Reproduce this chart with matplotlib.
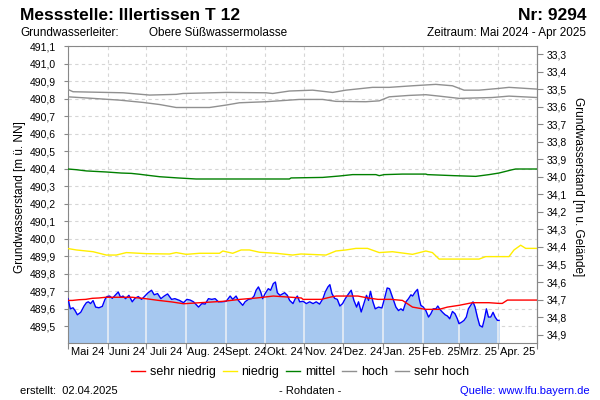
import datetime as dt

import matplotlib
matplotlib.use('Agg')
import matplotlib.pyplot as plt
import matplotlib.dates as mdates
from matplotlib.ticker import FixedLocator, FuncFormatter, NullFormatter

plt.rcParams['font.family'] = ['Liberation Sans', 'DejaVu Sans']

START = dt.date(2024, 5, 1)
GELAENDE = 524.353  # Geländehöhe [m ü. NN]

monate = ['Mai 24', 'Juni 24', 'Juli 24', 'Aug. 24', 'Sept. 24', 'Okt. 24',
          'Nov. 24', 'Dez. 24', 'Jan. 25', 'Feb. 25', 'Mrz. 25', 'Apr. 25']
links_ticks = [489.5, 489.6, 489.7, 489.8, 489.9, 490.0, 490.1, 490.2, 490.3,
               490.4, 490.5, 490.6, 490.7, 490.8, 490.9, 491.0, 491.1]
rechts_ticks = [33.3, 33.4, 33.5, 33.6, 33.7, 33.8, 33.9, 34.0, 34.1, 34.2,
                34.3, 34.4, 34.5, 34.6, 34.7, 34.8, 34.9]

# Messwerte (Tage seit 01.05.2024, Wasserstand m ü. NN)
gw_tage = [0, 1.8, 3.9, 5.5, 7.3, 9.9, 12.5, 14.3, 15.8, 17.6, 19.5, 21.5, 24.1,
           26.7, 28.8, 30.3, 32.4, 34.5, 37.1, 39.1, 40.9, 42.8, 44.8, 47.4, 50.0,
           52.1, 54.7, 57.3, 59.9, 62.4, 65.0, 67.1, 69.7, 72.3, 74.9, 77.5, 80.6,
           83.2, 86.8, 89.9, 92.5, 95.1, 97.7, 100.3, 101.6, 104.2, 106.7, 109.3,
           111.9, 114.5, 117.1, 119.7, 123.1, 126.2, 128.2, 130.8, 132.6, 136.0,
           137.8, 140.4, 143.0, 144.8, 146.4, 148.2, 150.0, 151.5, 153.4, 155.9,
           157.7, 159.8, 161.4, 162.9, 165.0, 168.6, 170.7, 172.5, 175.1, 176.9,
           178.5, 180.3, 182.9, 185.5, 188.1, 190.7, 193.2, 195.8, 198.4, 200.2,
           202.3, 203.8, 205.4, 207.5, 209.6, 211.6, 213.7, 215.8, 217.8, 220.4,
           222.5, 224.6, 226.1, 228.2, 230.3, 232.3, 233.9, 235.4, 237.3, 239.1,
           241.7, 244.3, 246.3, 248.4, 250.2, 253.1, 255.2, 257.2, 259.1, 260.8,
           263.0, 265.0, 266.9, 268.2, 270.2, 272.0, 273.3, 274.6, 276.5, 278.5,
           280.6, 282.4, 284.2, 286.3, 287.8, 289.4, 291.5, 293.5, 295.3, 297.1,
           299.2, 301.2, 303.0, 304.3, 306.4, 308.2, 310.0, 311.6, 313.4, 315.2,
           316.8, 318.6, 320.4, 322.5, 324.1, 325.6, 327.2, 329.0, 330.8, 332.4,
           334.2, 335.5]
gw_stand = [489.658, 489.600, 489.606, 489.590, 489.566, 489.580, 489.616, 489.635,
            489.640, 489.630, 489.647, 489.610, 489.606, 489.614, 489.654, 489.670,
            489.673, 489.660, 489.680, 489.696, 489.666, 489.673, 489.658, 489.677,
            489.640, 489.660, 489.670, 489.654, 489.673, 489.692, 489.706, 489.680,
            489.687, 489.658, 489.673, 489.685, 489.654, 489.658, 489.648, 489.635,
            489.654, 489.650, 489.640, 489.620, 489.610, 489.630, 489.627, 489.658,
            489.654, 489.658, 489.640, 489.640, 489.643, 489.673, 489.654, 489.673,
            489.648, 489.620, 489.640, 489.654, 489.658, 489.673, 489.706, 489.725,
            489.696, 489.658, 489.687, 489.715, 489.706, 489.744, 489.753, 489.692,
            489.677, 489.692, 489.677, 489.648, 489.630, 489.658, 489.673, 489.640,
            489.643, 489.630, 489.640, 489.630, 489.640, 489.627, 489.658, 489.696,
            489.725, 489.738, 489.687, 489.660, 489.654, 489.616, 489.630, 489.658,
            489.680, 489.706, 489.648, 489.610, 489.640, 489.582, 489.630, 489.677,
            489.648, 489.700, 489.640, 489.600, 489.610, 489.605, 489.658, 489.719,
            489.715, 489.654, 489.610, 489.590, 489.600, 489.590, 489.640, 489.658,
            489.680, 489.673, 489.696, 489.711, 489.658, 489.620, 489.610, 489.590,
            489.553, 489.572, 489.600, 489.600, 489.616, 489.597, 489.580, 489.566,
            489.559, 489.543, 489.585, 489.572, 489.543, 489.515, 489.524, 489.534,
            489.553, 489.600, 489.620, 489.640, 489.610, 489.553, 489.505, 489.496,
            489.543, 489.600, 489.553, 489.553, 489.580, 489.553, 489.534, 489.534]

# Kennwerte
sn_tage = [0, 3.4, 8.6, 13.8, 18.9, 24.1, 29.3, 39.7, 50, 60.4, 70.7, 81.1, 89.9,
           102.8, 120.9, 133.9, 146.9, 159.8, 181.6, 182.9, 197.1, 204.9, 208.8,
           225.6, 233.4, 241.2, 251.5, 260.3, 264.2, 268.1, 275.8, 278.5, 288.8,
           295.3, 304.3, 314.7, 327.6, 335.4, 338, 342, 365]
sn_stand = [489.648, 489.648, 489.652, 489.654, 489.660, 489.662, 489.666, 489.666,
            489.666, 489.658, 489.648, 489.639, 489.629, 489.635, 489.643, 489.654,
            489.662, 489.673, 489.662, 489.654, 489.654, 489.668, 489.673, 489.673,
            489.662, 489.654, 489.654, 489.648, 489.629, 489.610, 489.600, 489.597,
            489.597, 489.610, 489.620, 489.635, 489.635, 489.631, 489.631, 489.650,
            489.650]

ni_tage = [0, 6.5, 19.5, 29.8, 37.6, 45.4, 60.9, 79, 84.2, 92, 102.3, 117.9, 120.5,
           128.2, 134.7, 141.2, 149, 161.9, 174.8, 181.3, 200.8, 208.5, 216.3, 224.1,
           233.1, 242.2, 252.5, 268.1, 278.5, 283.6, 288.8, 319.9, 325.1, 343.2,
           347.1, 352.3, 356.2, 365]
ni_stand = [489.944, 489.936, 489.926, 489.907, 489.907, 489.921, 489.915, 489.913,
            489.921, 489.911, 489.917, 489.917, 489.930, 489.917, 489.936, 489.936,
            489.923, 489.917, 489.907, 489.913, 489.907, 489.930, 489.936, 489.945,
            489.945, 489.921, 489.926, 489.911, 489.930, 489.921, 489.884, 489.884,
            489.898, 489.898, 489.936, 489.963, 489.945, 489.945]

mi_tage = [0, 6.5, 14.3, 29.8, 41.5, 49.2, 55.7, 62.2, 71.3, 85.5, 99.7, 172.3,
           173.6, 198.2, 211.1, 221.5, 239.6, 242.2, 246.1, 260.3, 278.5, 279.7,
           300.5, 317.3, 327.7, 335.4, 345.8, 348.4, 365]
mi_stand = [490.398, 490.394, 490.387, 490.381, 490.375, 490.373, 490.368, 490.362,
            490.354, 490.347, 490.341, 490.341, 490.347, 490.350, 490.358, 490.366,
            490.366, 490.360, 490.366, 490.369, 490.369, 490.366, 490.360, 490.356,
            490.366, 490.375, 490.394, 490.398, 490.398]

ho_tage = [0, 19.5, 40.2, 58.3, 71.3, 84.2, 110.1, 123.1, 133.4, 154.1, 180, 198.2,
           208.5, 231.8, 242.2, 250, 265.5, 278.5, 288.8, 304.4, 330.2, 343.2, 365]
ho_stand = [490.810, 490.801, 490.791, 490.778, 490.766, 490.749, 490.749, 490.763,
            490.776, 490.782, 490.795, 490.795, 490.784, 490.782, 490.787, 490.810,
            490.818, 490.822, 490.814, 490.801, 490.806, 490.814, 490.806]

sh_tage = [0, 3.9, 42.8, 63.5, 84.2, 89.4, 123.1, 154.1, 159.3, 172.3, 190.4, 205.9,
           216.3, 237, 250, 268.1, 286.2, 299.2, 308.2, 319.9, 335.4, 343.2, 365]
sh_stand = [490.852, 490.839, 490.833, 490.820, 490.824, 490.829, 490.835, 490.833,
            490.829, 490.843, 490.848, 490.835, 490.848, 490.864, 490.864, 490.873,
            490.881, 490.873, 490.848, 490.848, 490.858, 490.864, 490.854]


def als_datum(tage):
    t0 = mdates.date2num(START)
    return [t0 + t for t in tage]


def komma(v, pos=None):
    return f'{v:.1f}'.replace('.', ',')


fig = plt.figure(figsize=(6, 4), dpi=100)
ax = fig.add_axes([68 / 600, 57 / 400, 469 / 600, 297 / 400])

x_gw = als_datum(gw_tage)
fill = ax.fill_between(x_gw, gw_stand, 489.0, color='#a6c8f0', lw=0, zorder=1)

monatsanfang = [mdates.date2num(dt.date(2024 + (4 + i) // 12, (4 + i) % 12 + 1, 1))
                for i in range(13)]
monatsmitte = [(a + b) / 2 for a, b in zip(monatsanfang[:-1], monatsanfang[1:])]

# helle Monatslinien innerhalb der Fläche
for m in monatsanfang[1:-1]:
    ln = ax.axvline(m, color='#e8eef6', lw=1.2, zorder=1.2)
    ln.set_clip_path(fill.get_paths()[0], fill.get_transform())

ax.plot(x_gw, gw_stand, color='#0000ff', lw=1.0, zorder=3)
l_sn, = ax.plot(als_datum(sn_tage), sn_stand, color='#ff0000', lw=1.0, zorder=4)
l_ni, = ax.plot(als_datum(ni_tage), ni_stand, color='#ffee00', lw=1.0, zorder=4)
l_mi, = ax.plot(als_datum(mi_tage), mi_stand, color='#008000', lw=1.0, zorder=4)
l_ho, = ax.plot(als_datum(ho_tage), ho_stand, color='#909090', lw=1.0, zorder=4)
l_sh, = ax.plot(als_datum(sh_tage), sh_stand, color='#909090', lw=1.0, zorder=4)

ax.set_xlim(monatsanfang[0], monatsanfang[-1])
ax.set_ylim(489.405, 491.1)

ax.set_axisbelow(True)
ax.xaxis.set_major_locator(FixedLocator(monatsanfang))
ax.xaxis.set_major_formatter(NullFormatter())
ax.xaxis.set_minor_locator(FixedLocator(monatsmitte))
ax.xaxis.set_minor_formatter(FuncFormatter(lambda v, pos: monate[pos]))
ax.tick_params(axis='x', which='major', length=4, color='#888888')
ax.tick_params(axis='x', which='minor', length=0, labelsize=8, pad=3)

ax.yaxis.set_major_locator(FixedLocator(links_ticks))
ax.yaxis.set_major_formatter(FuncFormatter(komma))
ax.tick_params(axis='y', length=3, color='#888888', labelsize=7.5, pad=6)
ax.grid(True, which='major', color='#d6d6d6', ls=(0, (3, 3)), lw=0.8)

for s in ax.spines.values():
    s.set_color('#888888')

sec = ax.secondary_yaxis('right', functions=(lambda v: GELAENDE - v,
                                             lambda v: GELAENDE - v))
sec.yaxis.set_major_locator(FixedLocator(rechts_ticks))
sec.yaxis.set_major_formatter(FuncFormatter(komma))
sec.tick_params(axis='y', length=4, color='#888888', labelsize=7.5, pad=3)
sec.spines['right'].set_color('#888888')

# Achsentitel
fig.text(20 / 600, 1 - 197 / 400, 'Grundwasserstand [m ü. NN]', rotation=90,
         ha='center', va='center', fontsize=8.5)
fig.text(578 / 600, 1 - 187 / 400, 'Grundwasserstand [m u. Gelände]', rotation=270,
         ha='center', va='center', fontsize=8.5)

# Kopfzeile
fig.text(20 / 600, 1 - 15 / 400, 'Messstelle: Illertissen T 12', fontsize=12.5,
         fontweight='bold', ha='left', va='center')
fig.text(586 / 600, 1 - 15 / 400, 'Nr: 9294', fontsize=12.5, fontweight='bold',
         ha='right', va='center')
fig.text(20 / 600, 1 - 33 / 400, 'Grundwasserleiter:', fontsize=8.5,
         ha='left', va='center')
fig.text(149 / 600, 1 - 33 / 400, 'Obere Süßwassermolasse', fontsize=8.5,
         ha='left', va='center')
fig.text(586 / 600, 1 - 33 / 400, 'Zeitraum: Mai 2024 - Apr 2025', fontsize=8.5,
         ha='right', va='center')

# Legende
fig.legend([l_sn, l_ni, l_mi, l_ho, l_sh],
           ['sehr niedrig', 'niedrig', 'mittel', 'hoch', 'sehr hoch'],
           loc='center', bbox_to_anchor=(300 / 600, 1 - 372 / 400), ncol=5,
           frameon=False, fontsize=9, handlelength=1.1, handletextpad=0.4,
           columnspacing=0.55, borderpad=0, borderaxespad=0)

# Fußzeile
fig.text(20 / 600, 1 - 391 / 400, 'erstellt:  02.04.2025', fontsize=8,
         ha='left', va='center')
fig.text(310 / 600, 1 - 391 / 400, '- Rohdaten -', fontsize=8,
         ha='center', va='center')
fig.text(590 / 600, 1 - 391 / 400, 'Quelle: www.lfu.bayern.de', fontsize=8,
         ha='right', va='center', color='#0000ff')

fig.savefig('out.png', dpi=100)
